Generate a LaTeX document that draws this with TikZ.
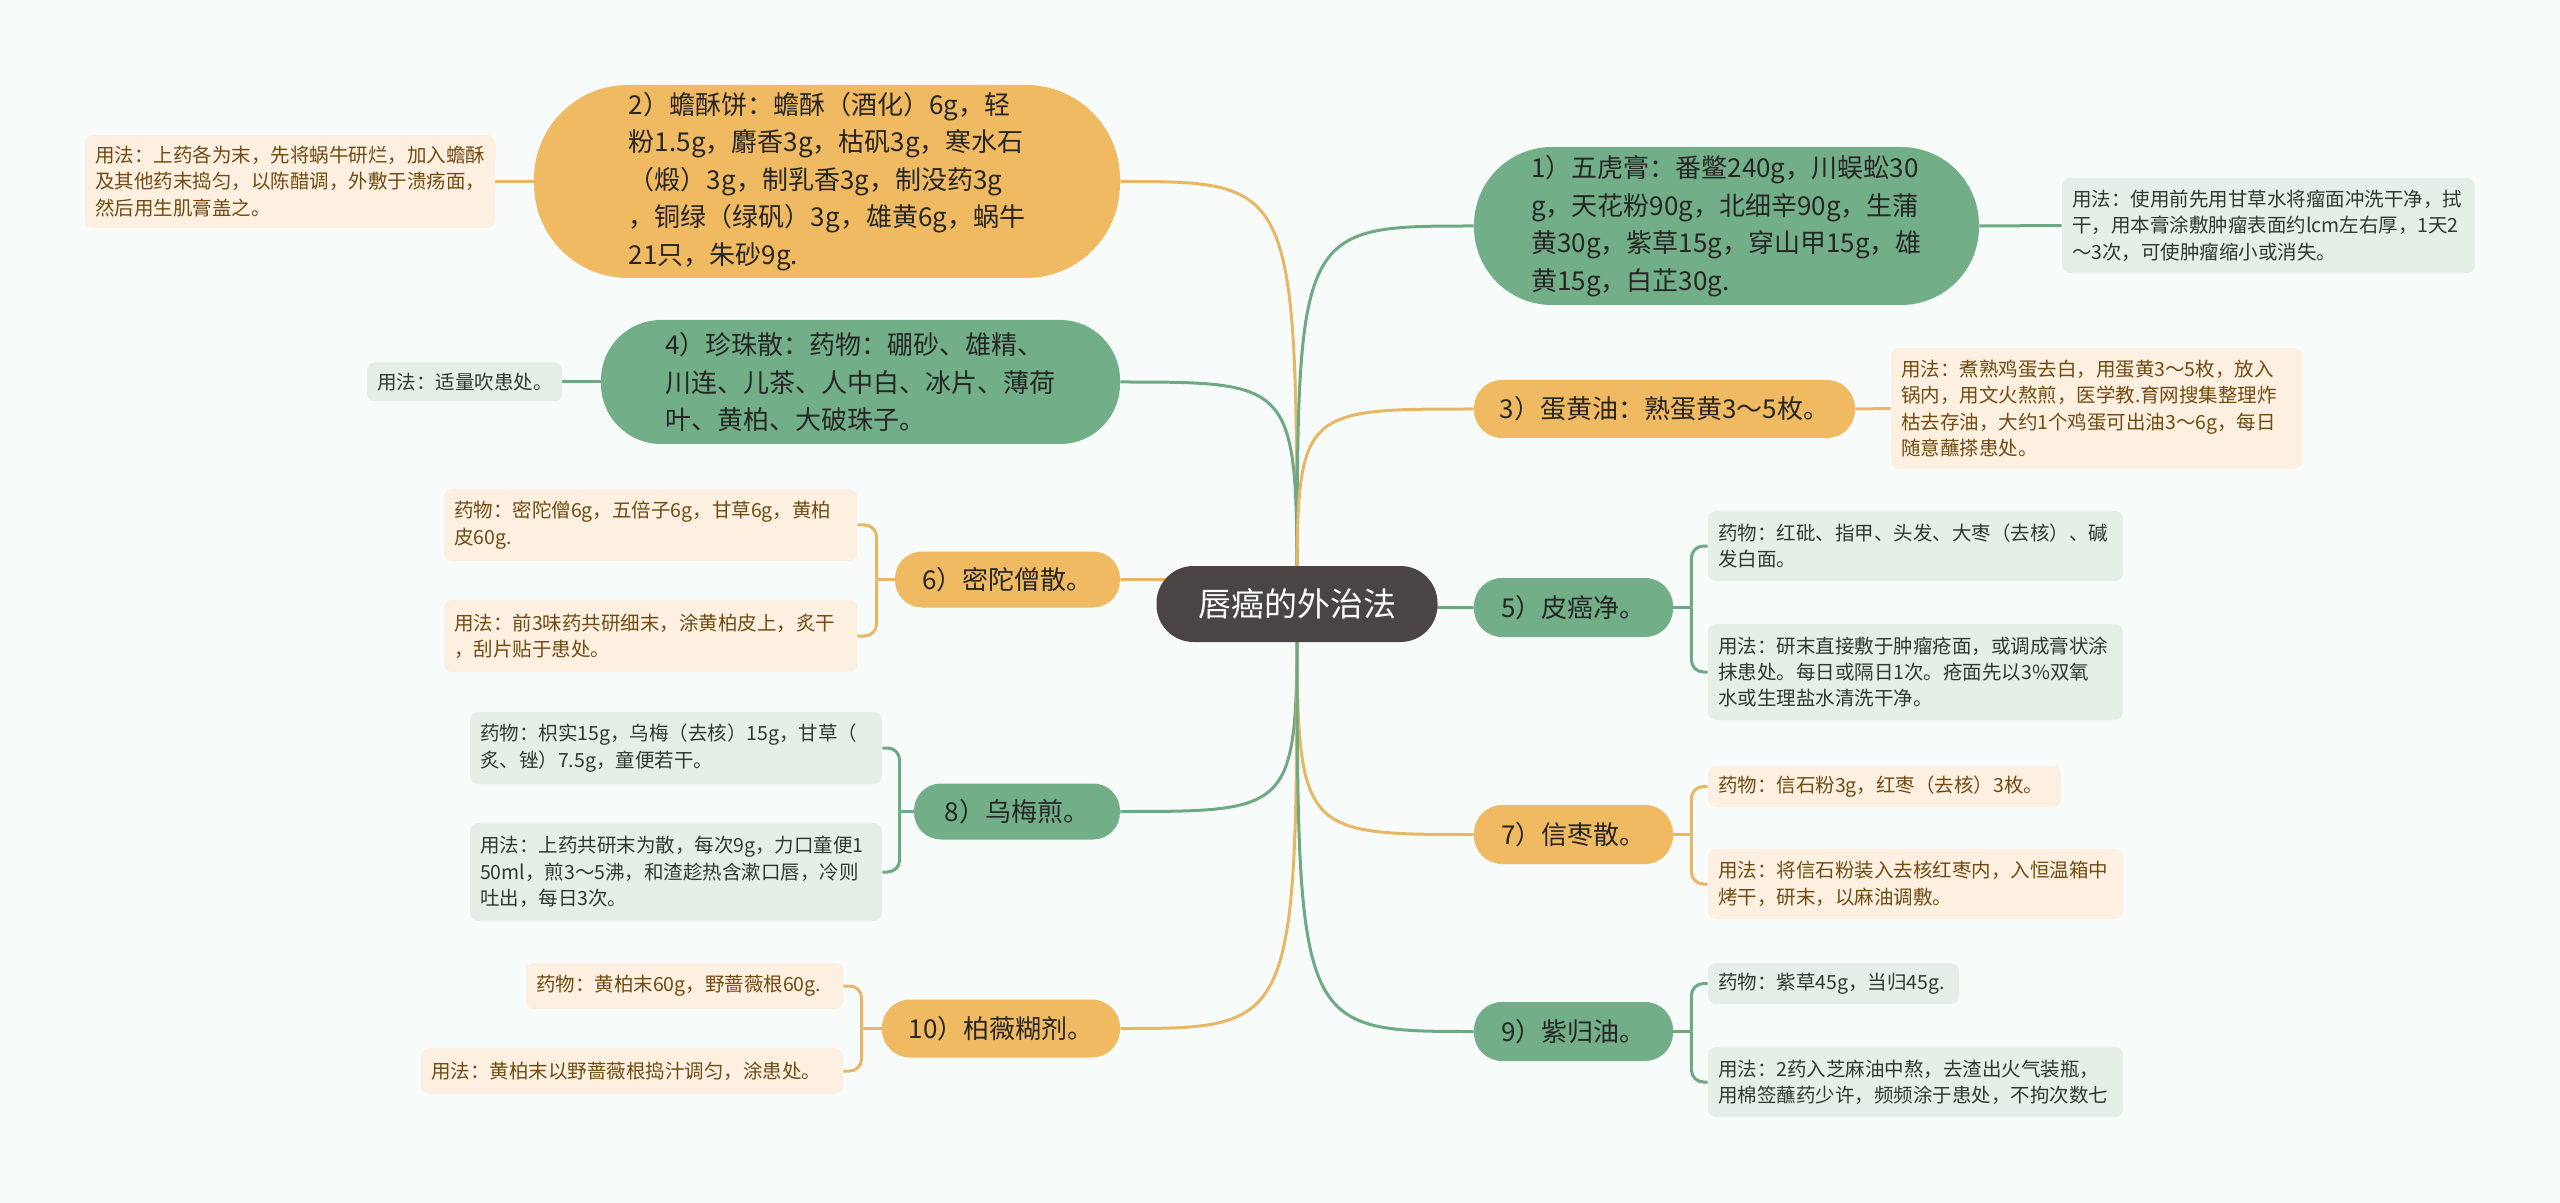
\documentclass[tikz,border=0pt]{standalone}
\usepackage{fontspec}
\setmainfont{Noto Sans CJK SC}
\usetikzlibrary{backgrounds}
\definecolor{bgc}{HTML}{F7FCFB}
\definecolor{rootc}{HTML}{4A4544}
\definecolor{orF}{HTML}{F0BA62}
\definecolor{grF}{HTML}{72AE87}
\definecolor{orN}{HTML}{FDF0E1}
\definecolor{grN}{HTML}{E5EFE8}
\definecolor{orL}{HTML}{E8B766}
\definecolor{grL}{HTML}{6DA982}
\definecolor{mainT}{HTML}{262626}
\definecolor{orT}{HTML}{714B12}
\definecolor{grT}{HTML}{2F3A33}
\tikzset{
  rootst/.style={fill=rootc, text=white, rounded corners=18.5pt, minimum width=140.5pt, minimum height=38pt, inner sep=0pt, font=\fontsize{16.5}{20}\selectfont},
  mo/.style={fill=orF, text=mainT, align=left, inner sep=0pt, font=\fontsize{13}{18.75}\selectfont},
  mg/.style={fill=grF, text=mainT, align=left, inner sep=0pt, font=\fontsize{13}{18.75}\selectfont},
  no/.style={fill=orN, text=orT, align=left, inner xsep=5pt, inner ysep=0pt, rounded corners=4pt, font=\fontsize{9.75}{13.2}\selectfont},
  ng/.style={fill=grN, text=grT, align=left, inner xsep=5pt, inner ysep=0pt, rounded corners=4pt, font=\fontsize{9.75}{13.2}\selectfont},
  lo/.style={draw=orL, line width=1.5pt},
  lg/.style={draw=grL, line width=1.5pt},
  bro/.style={draw=orL, line width=1.5pt, rounded corners=6pt},
  brg/.style={draw=grL, line width=1.5pt, rounded corners=6pt}
}
\begin{document}
\begin{tikzpicture}[x=0.5pt,y=-0.5pt]
\useasboundingbox (0,0) rectangle (2560,1203);
% root
\node[rootst] (root) at (1297,604) {唇癌的外治法};
% left main nodes
\node[mo, minimum width=293pt, minimum height=96.5pt, rounded corners=47pt] (n2) at (827,181.5) {2）蟾酥饼：蟾酥（酒化）6g，轻\\粉1.5g，麝香3g，枯矾3g，寒水石\\（煅）3g，制乳香3g，制没药3g\\，铜绿（绿矾）3g，雄黄6g，蜗牛\\21只，朱砂9g.};
\node[mg, minimum width=259.5pt, minimum height=62pt, rounded corners=30pt] (n4) at (860.5,382) {4）珍珠散：药物：硼砂、雄精、\\川连、儿茶、人中白、冰片、薄荷\\叶、黄柏、大破珠子。};
\node[mo, minimum width=112.5pt, minimum height=28pt, rounded corners=13.5pt] (n6) at (1007.5,579.5) {6）密陀僧散。};
\node[mg, minimum width=103pt, minimum height=28pt, rounded corners=13.5pt] (n8) at (1017,811.5) {8）乌梅煎。};
\node[mo, minimum width=119pt, minimum height=29pt, rounded corners=14pt] (n10) at (1001,1028.5) {10）柏薇糊剂。};
% right main nodes
\node[mg, minimum width=252.5pt, minimum height=79pt, rounded corners=39pt] (n1) at (1726.5,226) {1）五虎膏：番鳖240g，川蜈蚣30\\g，天花粉90g，北细辛90g，生蒲\\黄30g，紫草15g，穿山甲15g，雄\\黄15g，白芷30g.};
\node[mo, minimum width=190.5pt, minimum height=29pt, rounded corners=14pt] (n3) at (1664.5,409) {3）蛋黄油：熟蛋黄3～5枚。};
\node[mg, minimum width=99.5pt, minimum height=29.5pt, rounded corners=14pt] (n5) at (1573.5,607.5) {5）皮癌净。};
\node[mo, minimum width=99.5pt, minimum height=29.5pt, rounded corners=14pt] (n7) at (1573.5,834.5) {7）信枣散。};
\node[mg, minimum width=99.5pt, minimum height=29.5pt, rounded corners=14pt] (n9) at (1573.5,1031.5) {9）紫归油。};
% notes left
\node[no, text width=195pt, minimum height=46.5pt] (n2u) at (290,181.5) {用法：上药各为末，先将蜗牛研烂，加入蟾酥\\及其他药末捣匀，以陈醋调，外敷于溃疡面，\\然后用生肌膏盖之。};
\node[ng, text width=87.5pt, minimum height=19.5pt] (n4u) at (464.5,382) {用法：适量吹患处。};
\node[no, text width=196.5pt, minimum height=36pt] (n6a) at (650.5,525) {药物：密陀僧6g，五倍子6g，甘草6g，黄柏\\皮60g.};
\node[no, text width=196.5pt, minimum height=36pt] (n6b) at (650.5,636) {用法：前3味药共研细末，涂黄柏皮上，炙干\\，刮片贴于患处。};
\node[ng, text width=196pt, minimum height=36pt] (n8a) at (676,748) {药物：枳实15g，乌梅（去核）15g，甘草（\\炙、锉）7.5g，童便若干。};
\node[ng, text width=196pt, minimum height=49pt] (n8b) at (676,872) {用法：上药共研末为散，每次9g，力口童便1\\50ml，煎3～5沸，和渣趁热含漱口唇，冷则\\吐出，每日3次。};
\node[no, text width=148.5pt, minimum height=23pt] (n10a) at (684.5,986) {药物：黄柏末60g，野蔷薇根60g.};
\node[no, text width=201pt, minimum height=23pt] (n10b) at (632,1071) {用法：黄柏末以野蔷薇根捣汁调匀，涂患处。};
% notes right
\node[ng, text width=196.5pt, minimum height=47.5pt] (n1u) at (2268.5,225.5) {用法：使用前先用甘草水将瘤面冲洗干净，拭\\干，用本膏涂敷肿瘤表面约lcm左右厚，1天2\\～3次，可使肿瘤缩小或消失。};
\node[no, text width=195.5pt, minimum height=60.5pt] (n3u) at (2096.5,408.5) {用法：煮熟鸡蛋去白，用蛋黄3～5枚，放入\\锅内，用文火熬煎，医学教.育网搜集整理炸\\枯去存油，大约1个鸡蛋可出油3～6g，每日\\随意蘸搽患处。};
\node[ng, text width=197.5pt, minimum height=35pt] (n5a) at (1915.5,546) {药物：红砒、指甲、头发、大枣（去核）、碱\\发白面。};
\node[ng, text width=197.5pt, minimum height=48pt] (n5b) at (1915.5,672) {用法：研末直接敷于肿瘤疮面，或调成膏状涂\\抹患处。每日或隔日1次。疮面先以3\%双氧\\水或生理盐水清洗干净。};
\node[no, text width=166.5pt, minimum height=20.5pt] (n7a) at (1884.5,786.5) {药物：信石粉3g，红枣（去核）3枚。};
\node[no, text width=197.5pt, minimum height=35pt] (n7b) at (1915.5,884) {用法：将信石粉装入去核红枣内，入恒温箱中\\烤干，研末，以麻油调敷。};
\node[ng, text width=115.5pt, minimum height=20.5pt] (n9a) at (1833.5,983.5) {药物：紫草45g，当归45g.};
\node[ng, text width=197.5pt, minimum height=35pt] (n9b) at (1915.5,1082) {用法：2药入芝麻油中熬，去渣出火气装瓶，\\用棉签蘸药少许，频频涂于患处，不拘次数七};
% bracket junctions
\coordinate (b6) at ([xshift=-9pt]n6.west);
\coordinate (b8) at ([xshift=-7pt]n8.west);
\coordinate (b10) at ([xshift=-10pt]n10.west);
\coordinate (b5) at ([xshift=9pt]n5.east);
\coordinate (b7) at ([xshift=9pt]n7.east);
\coordinate (b9) at ([xshift=9pt]n9.east);
\begin{pgfonlayer}{background}
\fill[bgc] (0,0) rectangle (2560,1203);
% root connectors
\draw[lo] (root.center) .. controls (root.center |- n2.east) .. (n2.east);
\draw[lg] (root.center) .. controls (root.center |- n4.east) .. (n4.east);
\draw[lo] (root.center) .. controls (root.center |- n6.east) .. (n6.east);
\draw[lg] (root.center) .. controls (root.center |- n8.east) .. (n8.east);
\draw[lo] (root.center) .. controls (root.center |- n10.east) .. (n10.east);
\draw[lg] (root.center) .. controls (root.center |- n1.west) .. (n1.west);
\draw[lo] (root.center) .. controls (root.center |- n3.west) .. (n3.west);
\draw[lg] (root.center) .. controls (root.center |- n5.west) .. (n5.west);
\draw[lo] (root.center) .. controls (root.center |- n7.west) .. (n7.west);
\draw[lg] (root.center) .. controls (root.center |- n9.west) .. (n9.west);
% single notes
\draw[lo] (n2.west) -- (n2u.east);
\draw[lg] (n4.west) -- (n4u.east);
\draw[lg] (n1.east) -- (n1u.west);
\draw[lo] (n3.east) -- (n3u.west);
% brackets
\draw[lo] (n6.west) -- (b6);
\draw[bro] (b6) |- (n6a.east);
\draw[bro] (b6) |- (n6b.east);
\draw[lg] (n8.west) -- (b8);
\draw[brg] (b8) |- (n8a.east);
\draw[brg] (b8) |- (n8b.east);
\draw[lo] (n10.west) -- (b10);
\draw[bro] (b10) |- (n10a.east);
\draw[bro] (b10) |- (n10b.east);
\draw[lg] (n5.east) -- (b5);
\draw[brg] (b5) |- (n5a.west);
\draw[brg] (b5) |- (n5b.west);
\draw[lo] (n7.east) -- (b7);
\draw[bro] (b7) |- (n7a.west);
\draw[bro] (b7) |- (n7b.west);
\draw[lg] (n9.east) -- (b9);
\draw[brg] (b9) |- (n9a.west);
\draw[brg] (b9) |- (n9b.west);
\end{pgfonlayer}
\end{tikzpicture}
\end{document}
